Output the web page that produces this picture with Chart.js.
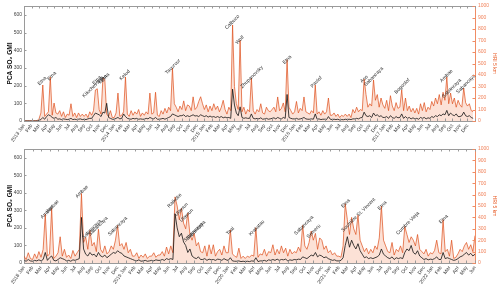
<!DOCTYPE html>
<html><head><meta charset="utf-8">
<script src="https://cdn.jsdelivr.net/npm/chart.js@4"></script>
<style>
html,body{margin:0;padding:0;background:#fff;width:500px;height:287px;overflow:hidden}
.p{position:absolute;left:0;width:500px}
</style></head><body>
<div class="p" style="top:0;height:143px"><canvas id="c1" width="500" height="143"></canvas></div>
<div class="p" style="top:143px;height:144px"><canvas id="c2" width="500" height="144"></canvas></div>
<script>
// ---- tick labels ----
const MONTHS = ["Jan","Feb","Mar","Apr","May","Jun","Jul","Aug","Sep","Oct","Nov","Dec"];
const TOP_START_YEAR = 2013;
const TOP_MONTHS = 60;       // 2013 Jan .. 2017 Dec
const BOTTOM_START_YEAR = 2018;
const BOTTOM_MONTHS = 53;    // 2018 Jan .. 2022 Jun
const LEFT_TICKS = [0,100,200,300,400,500,600];
const RIGHT_TICKS = [0,100,200,300,400,500,600,700,800,900,1000];

// ---- top panel (4 samples per month), HRI 5 km (right axis) ----
const TOP_HRI = [
 2,2,2,2, 2,2,3,3, 20,70,313,40, 60,80,383,50, 156,70,60,90, 40,80,30,60, 50,150,40,70, 30,70,40,60, 40,60,30,80, 50,90,270,280, 100,60,374,360, 60,40,90,30,
 30,70,243,40, 50,80,383,60, 40,90,50,80, 60,100,40,70, 50,80,60,243, 60,70,250,50, 40,90,60,110, 70,120,90,460, 150,120,80,130, 100,175,90,140, 130,90,210,100, 120,170,211,150,
 100,140,80,130, 90,150,100,130, 80,120,180,100, 60,120,90,835, 300,150,100,704, 80,120,60,100, 80,374,90,60, 100,80,150,70, 60,120,90,80, 100,120,80,209, 90,110,157,80, 533,120,90,60,
 80,170,70,110, 90,209,80,70, 60,90,70,313, 60,80,50,90, 60,80,200,50, 50,70,40,60, 30,50,40,60, 40,60,30,100, 70,120,80,100, 90,365,230,120, 150,130,357,180, 230,120,200,140,
 110,180,90,220, 130,90,160,110, 120,270,90,200, 90,130,80,110, 70,110,60,150, 90,160,80,120, 100,170,130,200, 150,230,140,250, 180,383,150,243, 150,200,120,180, 140,120,287,160, 130,150,90,80
];
// PCA SO2 GMI (left axis)
const TOP_PCA = [
 0,0,0,0, 0,0,0,0, 3,8,20,10, 25,35,30,20, 15,20,10,12, 8,12,10,8, 10,15,8,10, 8,10,12,8, 10,8,12,15, 15,30,45,40, 35,25,50,45, 100,20,15,10,
 10,15,20,12, 15,40,25,15, 12,10,15,12, 15,10,12,10, 10,15,12,20, 15,12,20,10, 10,12,15,10, 15,20,25,40, 35,30,25,30, 30,35,25,30, 25,30,35,28, 30,25,35,30,
 25,30,22,28, 22,25,20,25, 20,25,18,22, 18,20,15,180, 90,45,30,80, 20,15,18,15, 15,40,15,12, 15,12,18,10, 12,15,10,12, 15,18,12,20, 15,12,20,15, 150,20,15,12,
 12,15,10,12, 15,20,12,10, 10,12,10,40, 10,12,8,10, 10,8,25,10, 8,10,8,10, 6,8,7,10, 8,10,8,12, 12,15,12,18, 20,50,30,25, 30,20,45,30, 35,25,30,20,
 20,25,15,30, 20,15,25,18, 20,40,15,25, 15,20,12,18, 12,15,10,20, 15,20,12,18, 15,25,20,30, 25,35,30,40, 35,60,30,45, 35,30,40,25, 25,30,50,30, 25,30,20,15
];
const TOP_NAMES = ["Etna","Etna","Kliuchevskoi","Etna","Etna","Etna","Kelud","Tavurvur","Calbuco","Wolf","Zhupanovsky","Etna","Pavlof","Aso","Sabancaya","Bogoslof","Ambae","Sabancaya","Sabancaya"];
const TOP_LABEL_M = [2.4,3.7,9.2,9.7,10.45,10.8,13.4,19.8,27.7,28.7,30.3,35.0,38.9,45.25,46.5,50.3,56.2,56.9,58.8];
const TOP_LABEL_V = [348,391,296,354,365,378,400,472,861,704,383,533,339,365,385,302,393,284,322];

// ---- bottom panel ----
const BOTTOM_HRI = [
 60,30,90,40, 30,80,40,100, 50,120,430,60, 80,480,40,60, 90,230,60,120, 50,70,40,110, 60,90,120,610, 180,226,120,287, 150,180,100,296, 120,90,150,80, 100,150,120,200, 330,150,170,120,
 180,90,120,60, 60,90,40,70, 50,80,40,60, 60,90,50,70, 70,100,60,140, 80,150,90,580, 500,380,480,350, 300,440,250,200, 260,150,180,100, 90,150,60,160, 80,160,60,100, 120,70,150,90,
 90,290,80,60, 50,130,40,60, 40,60,50,70, 60,310,50,80, 70,120,60,100, 90,160,70,120, 80,150,90,130, 60,120,80,100, 90,140,100,330, 150,120,180,280, 200,260,120,220, 200,120,150,90,
 110,70,90,60, 60,50,150,520, 380,250,400,300, 250,420,200,150, 100,130,80,120, 90,150,120,220, 500,200,150,100, 90,180,70,120, 100,150,90,320, 250,180,230,200, 150,250,120,100, 80,120,60,90,
 80,110,200,90, 80,380,100,120, 60,200,40,50, 80,120,100,150, 180,120,160,100, 240,120,150,100
];
const BOTTOM_PCA = [
 15,10,20,12, 10,15,12,18, 12,20,60,15, 30,40,15,12, 20,30,25,20, 12,15,10,18, 15,20,25,260, 80,50,40,60, 45,50,35,60, 40,35,45,30, 40,50,60,55, 70,60,55,40,
 35,30,25,20, 15,12,18,10, 12,15,10,12, 15,12,18,15, 15,20,15,25, 20,25,20,280, 200,150,170,120, 100,60,80,40, 30,25,35,20, 20,25,15,22, 18,20,15,22, 20,15,25,18,
 15,30,12,10, 10,12,8,10, 8,10,8,12, 10,30,8,12, 12,15,10,18, 15,20,15,22, 15,20,18,22, 12,18,15,20, 18,22,20,35, 30,25,35,45, 40,60,35,45, 40,30,35,25,
 20,15,18,12, 12,15,30,100, 150,90,130,100, 80,110,70,50, 30,35,25,30, 25,30,35,45, 80,50,40,30, 25,35,20,30, 25,30,25,60, 80,70,100,60, 50,70,40,30, 20,25,18,22,
 20,25,35,20, 20,60,25,30, 25,20,15,18, 25,35,40,50, 60,45,55,40, 50,40,45,35
];
const BOTTOM_NAMES = ["Ambae","Ambae","Ambae","Sabancaya","Sabancaya","Sabancaya","Raikoke","Ulawun","Ulawun","Sabancaya","Sabancaya","Taal","Krakatau","Sabancaya","Semeru","Etna","Soufrière St. Vincent","Etna","Cumbre Vieja","Etna"];
const BOTTOM_LABEL_M = [2.7,3.35,6.8,7.95,8.7,11.0,17.7,18.5,19.1,19.9,20.2,24.25,27.35,32.9,34.05,37.8,39.3,42.1,45.1,49.3];
const BOTTOM_LABEL_V = [443,496,626,296,322,322,548,470,417,270,286,280,307,330,278,523,422,504,348,385];

const SAMPLES_PER_MONTH = 4;
const FONT = '"Liberation Sans", Arial, sans-serif';
const ORANGE = 'rgb(222,78,26)';
const ORANGE_LIGHT = 'rgb(240,140,100)';

const boxPlugin = {
  id: 'boxTicks',
  afterDraw(chart) {
    const {ctx, chartArea: a, scales} = chart;
    ctx.save();
    ctx.lineWidth = 1;
    ctx.strokeStyle = '#9a9a9a';
    ctx.beginPath();
    ctx.moveTo(a.left, a.top + 0.5); ctx.lineTo(a.right, a.top + 0.5);
    ctx.stroke();
    const L = 2.5;
    ctx.beginPath();
    scales.x.ticks.forEach(t => {
      const x = Math.round(scales.x.getPixelForValue(t.value)) + 0.5;
      ctx.moveTo(x, a.bottom); ctx.lineTo(x, a.bottom - L);
      ctx.moveTo(x, a.top); ctx.lineTo(x, a.top + L);
    });
    scales.y.ticks.forEach(t => {
      const y = Math.round(scales.y.getPixelForValue(t.value)) + 0.5;
      ctx.moveTo(a.left, y); ctx.lineTo(a.left + L, y);
    });
    ctx.stroke();
    ctx.strokeStyle = ORANGE_LIGHT;
    ctx.beginPath();
    scales.y1.ticks.forEach(t => {
      const y = Math.round(scales.y1.getPixelForValue(t.value)) + 0.5;
      ctx.moveTo(a.right, y); ctx.lineTo(a.right - L, y);
    });
    ctx.stroke();
    ctx.restore();
  }
};

const labelPlugin = {
  id: 'volcLabels',
  afterDatasetsDraw(chart, args, opts) {
    const {ctx, scales} = chart;
    ctx.save();
    ctx.font = '5px ' + FONT;
    ctx.fillStyle = '#2a2a2a';
    ctx.textAlign = 'center';
    ctx.textBaseline = 'middle';
    opts.names.forEach((n, i) => {
      const x = scales.x.getPixelForValue(opts.m[i]);
      const y = scales.y1.getPixelForValue(opts.v[i]);
      ctx.save();
      ctx.translate(x, y);
      ctx.rotate(-Math.PI / 4);
      ctx.fillText(n, 0, 0);
      ctx.restore();
    });
    ctx.restore();
  }
};

function build(id, hri, pca, names, labM, labV, startYear, nMonths, lastLabelled, padTop, xHeight) {
  const toPts = arr => arr.map((v, i) => ({x: i / SAMPLES_PER_MONTH, y: v}));
  new Chart(document.getElementById(id), {
    type: 'line',
    data: {datasets: [
      {label: 'PCA SO2 GMI', data: toPts(pca), yAxisID: 'y', borderColor: '#111', borderWidth: 0.8,
       pointRadius: 0, tension: 0, order: 0, fill: false},
      {label: 'HRI 5 km', data: toPts(hri), yAxisID: 'y1', borderColor: ORANGE, borderWidth: 0.7,
       backgroundColor: 'rgba(240,120,70,0.22)', fill: 'origin', pointRadius: 0, tension: 0, order: 1}
    ]},
    options: {
      responsive: false, animation: false, devicePixelRatio: 1,
      layout: {padding: {top: padTop, left: 0, right: 0, bottom: 0}},
      plugins: {legend: {display: false}, tooltip: {enabled: false},
        volcLabels: {names: names, m: labM, v: labV}},
      scales: {
        x: {type: 'linear', min: 0, max: nMonths,
          grid: {display: false, drawTicks: false}, border: {display: true, color: '#9a9a9a'},
          ticks: {stepSize: 1, autoSkip: false, minRotation: 55, maxRotation: 55, padding: 2,
            color: '#333', font: {size: 5, family: FONT}, includeBounds: false,
            callback: v => {
              const k = Math.round(v);
              if (k > lastLabelled) return '';
              const mi = k % 12;
              return mi === 0 ? (startYear + k / 12) + ' ' + MONTHS[0] : MONTHS[mi];
            }},
          afterFit: s => { s.height = xHeight; }},
        y: {position: 'left', min: 0, max: 650,
          grid: {display: false, drawTicks: false}, border: {display: true, color: '#9a9a9a'},
          afterBuildTicks: s => { s.ticks = LEFT_TICKS.map(v => ({value: v})); },
          ticks: {padding: 2, color: '#444', font: {size: 5, family: FONT}, callback: v => String(v)},
          title: {display: true, text: 'PCA SO\u2082 GMI', color: '#111',
            font: {size: 6.5, weight: 'bold', family: FONT}, padding: {top: 6, bottom: 0}},
          afterFit: s => { s.width = 24; }},
        y1: {position: 'right', min: 0, max: 1000,
          grid: {display: false, drawTicks: false}, border: {display: true, color: ORANGE_LIGHT},
          afterBuildTicks: s => { s.ticks = RIGHT_TICKS.map(v => ({value: v})); },
          ticks: {padding: 3, color: 'rgb(240,130,90)', font: {size: 5, family: FONT}, callback: v => String(v)},
          title: {display: true, text: 'HRI 5 km', color: 'rgb(232,96,44)',
            font: {size: 5, family: FONT}, padding: {top: 3, bottom: 0}},
          afterFit: s => { s.width = 25; }}
      }
    },
    plugins: [boxPlugin, labelPlugin]
  });
}

build('c1', TOP_HRI, TOP_PCA, TOP_NAMES, TOP_LABEL_M, TOP_LABEL_V, TOP_START_YEAR, TOP_MONTHS, TOP_MONTHS - 1, 6, 22);
build('c2', BOTTOM_HRI, BOTTOM_PCA, BOTTOM_NAMES, BOTTOM_LABEL_M, BOTTOM_LABEL_V, BOTTOM_START_YEAR, BOTTOM_MONTHS, BOTTOM_MONTHS, 5, 24);
</script>
</body></html>
